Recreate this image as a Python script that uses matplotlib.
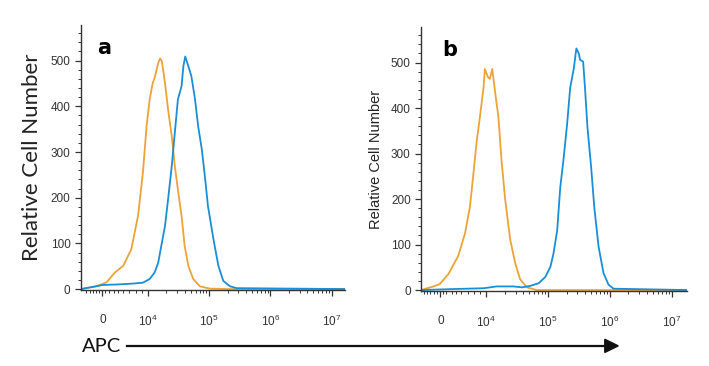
import matplotlib.pyplot as plt
import numpy as np

# x in "decade" units: 4 -> 10^4, 5 -> 10^5 ... ; '0' sits at about 3.26
tick_pos = [3.26, 4, 5, 6, 7]
tick_lab = ['0', r'$10^4$', r'$10^5$', r'$10^6$', r'$10^7$']

# panel a
a_orange_x = [2.91, 3.16, 3.33, 3.46, 3.60, 3.73, 3.84, 3.92, 3.98, 4.03, 4.08, 4.11, 4.17, 4.20,
              4.23, 4.28, 4.33, 4.39, 4.44, 4.49, 4.55, 4.60, 4.66, 4.74, 4.85, 5.01, 5.30, 7.21]
a_orange_y = [0, 6, 15, 36, 51, 87, 160, 255, 357, 415, 451, 462, 495, 505,
              498, 451, 393, 335, 269, 218, 160, 95, 51, 22, 6, 1, 0, 0]
a_blue_x = [2.91, 3.27, 3.49, 3.76, 3.92, 4.03, 4.11, 4.17, 4.22, 4.28, 4.33, 4.39, 4.44, 4.49,
            4.55, 4.58, 4.61, 4.66, 4.71, 4.77, 4.82, 4.88, 4.93, 4.98, 5.07, 5.15, 5.23, 5.34,
            5.45, 7.21]
a_blue_y = [0, 9, 10, 12, 14, 22, 36, 58, 95, 138, 196, 269, 342, 415,
            444, 488, 509, 488, 466, 415, 357, 306, 247, 182, 109, 51, 18, 6,
            2, 0]

# panel b
b_orange_x = [2.95, 3.15, 3.25, 3.39, 3.55, 3.66, 3.74, 3.79, 3.85, 3.90, 3.96, 3.98, 4.03, 4.06,
              4.10, 4.15, 4.20, 4.25, 4.31, 4.39, 4.47, 4.55, 4.66, 4.82, 7.25]
b_orange_y = [0, 8, 13, 35, 75, 125, 184, 249, 329, 380, 446, 486, 468, 464,
              486, 431, 380, 285, 198, 111, 60, 24, 6, 0, 0]
b_blue_x = [2.95, 3.42, 3.96, 4.17, 4.44, 4.58, 4.71, 4.85, 4.96, 5.04, 5.09, 5.15, 5.20, 5.25,
            5.31, 5.36, 5.42, 5.46, 5.50, 5.52, 5.57, 5.60, 5.64, 5.70, 5.75, 5.82, 5.90, 5.98,
            6.06, 7.25]
b_blue_y = [0, 2, 4, 8, 8, 6, 9, 15, 29, 51, 80, 131, 226, 284,
            364, 444, 488, 531, 520, 506, 502, 444, 357, 269, 182, 95, 37, 12,
            3, 0]

orange = '#EBA33A'
blue = '#1A8ED6'

plt.rcParams['mathtext.default'] = 'regular'

fig = plt.figure(figsize=(7.09, 3.66), dpi=100)
axa = fig.add_axes([0.1142, 0.2077, 0.372, 0.724])
axb = fig.add_axes([0.594, 0.205, 0.375, 0.721])

panels = [
    (axa, a_orange_x, a_orange_y, a_blue_x, a_blue_y, (2.91, 7.21), 'a', 0.06, 16, 'Lato'),
    (axb, b_orange_x, b_orange_y, b_blue_x, b_blue_y, (2.95, 7.25), 'b', 0.08, 10.5, 'Liberation Sans'),
]

for ax, ox, oy, bx, by, xl, letter, lx, ylfs, ylfam in panels:
    ax.plot(ox, oy, color=orange, lw=1.3)
    ax.plot(bx, by, color=blue, lw=1.3)
    ax.set_xlim(*xl)
    ax.set_ylim(-2, 578)
    for s in ['top', 'right']:
        ax.spines[s].set_visible(False)
    for s in ['left', 'bottom']:
        ax.spines[s].set_color('#333333')
        ax.spines[s].set_linewidth(1.0)
    ax.set_yticks(range(0, 501, 100))
    ax.set_yticks(range(0, 578, 20), minor=True)
    ax.set_xticks(tick_pos)
    ax.set_xticklabels(tick_lab)
    minor = [d + np.log10(k) for d in range(4, 7) for k in range(2, 10)]
    minor += [3.0, 3.05, 3.1, 3.15, 3.2, 3.3, 3.36, 3.45, 3.52, 3.6, 3.7, 3.8, 3.9]
    ax.set_xticks([m for m in minor if xl[0] < m < xl[1]], minor=True)
    ax.tick_params(axis='both', which='major', direction='out', length=4, width=0.9,
                   color='#333333', labelsize=8.5, labelcolor='#333333')
    ax.tick_params(axis='both', which='minor', direction='out', length=2.5, width=0.7,
                   color='#333333')
    ax.tick_params(axis='x', which='major', pad=13)
    for t in ax.get_xticklabels() + ax.get_yticklabels():
        t.set_fontfamily('Liberation Sans')
    ax.text(lx, 0.95, letter, transform=ax.transAxes, fontsize=15, fontweight='bold',
            va='top', ha='left')
    ax.set_ylabel('Relative Cell Number', fontsize=ylfs, family=ylfam, color='#222222',
                  labelpad=6)

fig.text(0.115, 0.052, 'APC', fontsize=14.5, family='Lato', color='#111111', va='center')
fig.add_artist(plt.Line2D([0.179, 0.855], [0.055, 0.055], color='#111111', lw=1.6))
fig.patches.append(plt.Polygon([[0.853, 0.073], [0.853, 0.037], [0.872, 0.055]],
                               closed=True, color='#111111', transform=fig.transFigure,
                               figure=fig))

fig.savefig('out.png', dpi=100)
